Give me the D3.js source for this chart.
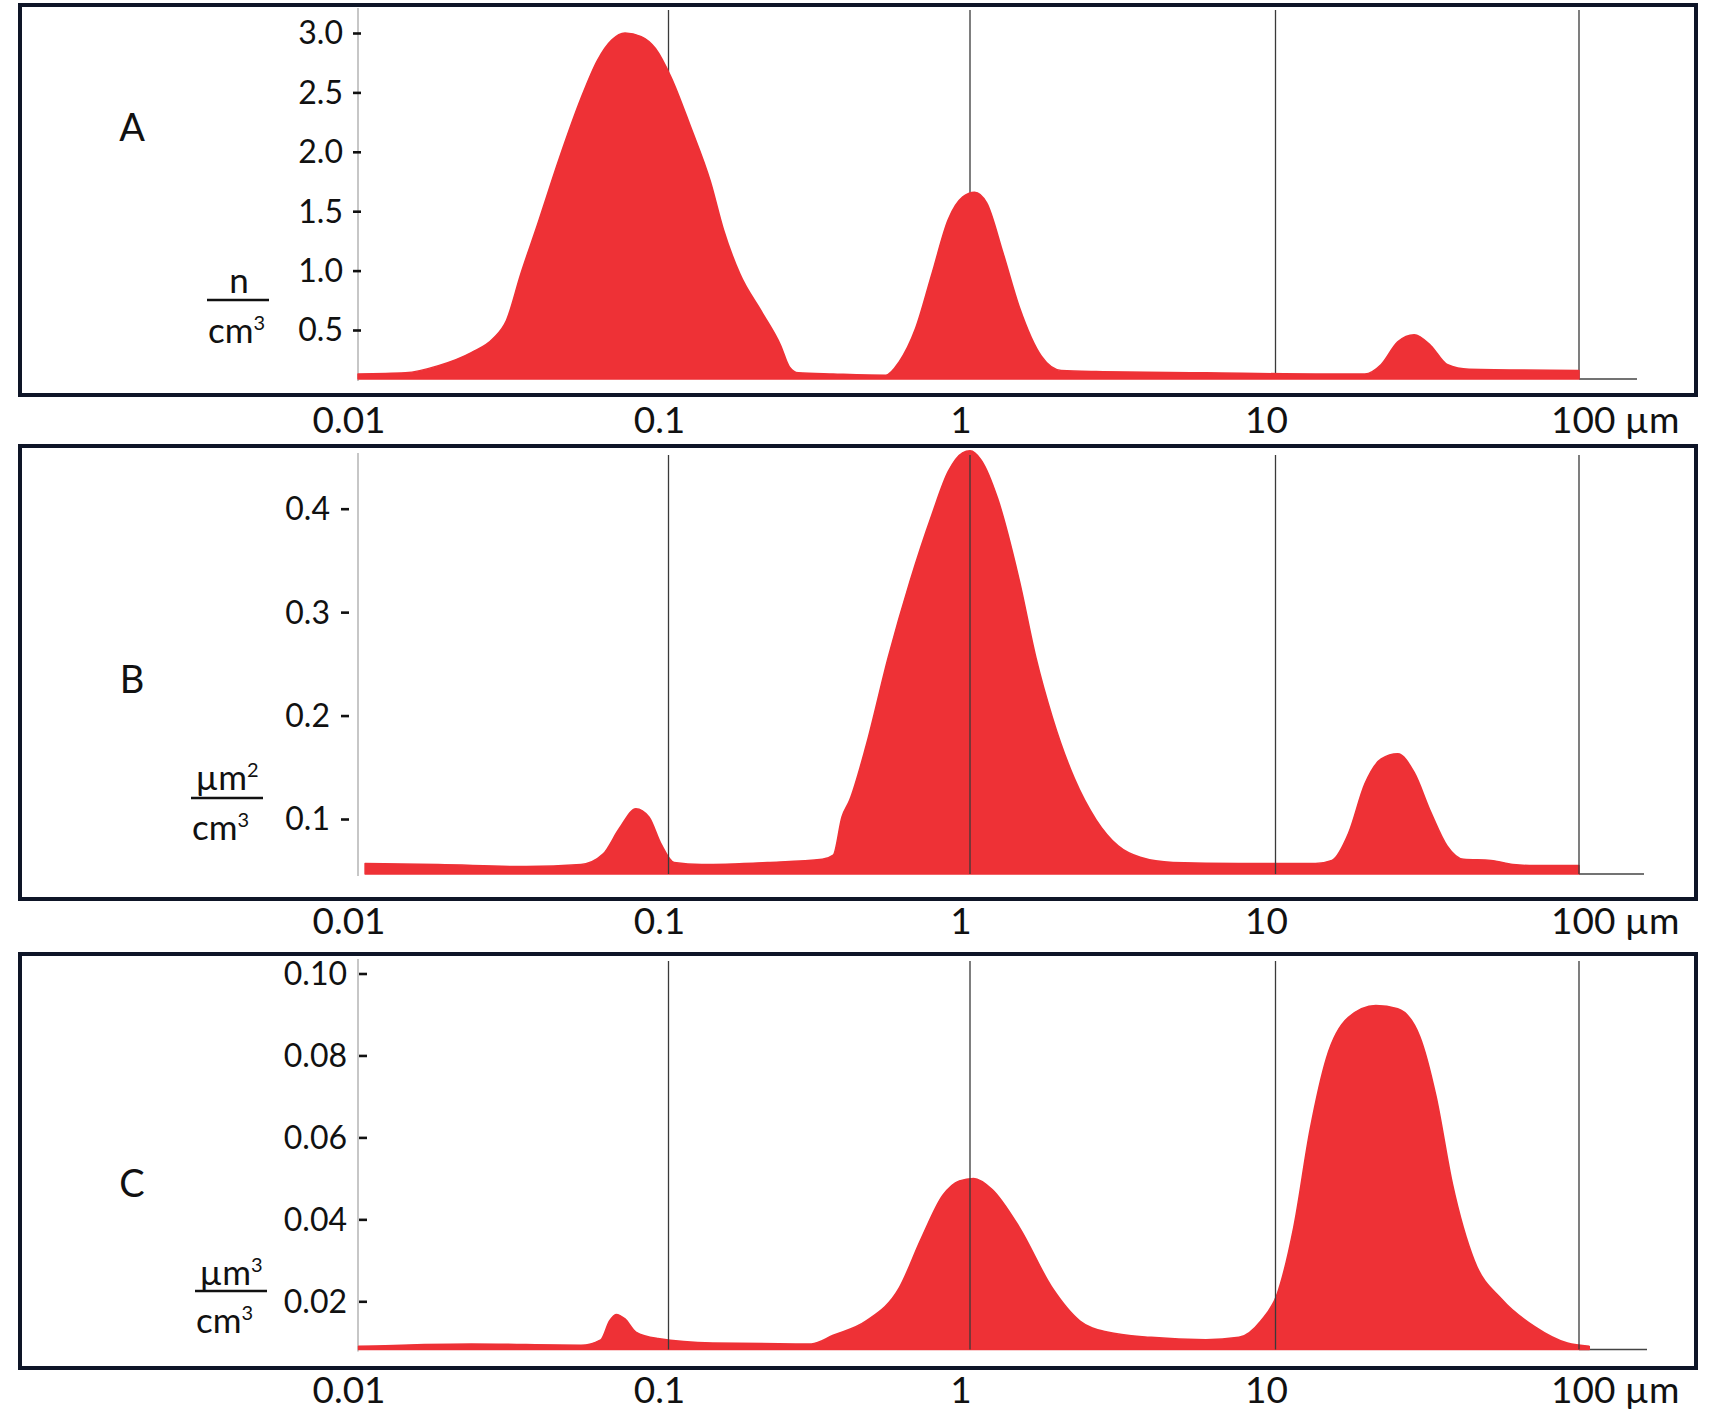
<!DOCTYPE html>
<html>
<head>
<meta charset="utf-8">
<script src="https://cdn.jsdelivr.net/npm/d3@7"></script>
<style>
  html, body { margin: 0; padding: 0; background: #fff; }
  svg { display: block; font-family: Lato, "Open Sans", sans-serif; }
</style>
</head>
<body>
<svg id="chart" width="1719" height="1413"></svg>
<script>
// ---------- DATA ----------
const xTicks = [0.01, 0.1, 1, 10, 100];
const xTickLabels = ["0.01", "0.1", "1", "10", "100 µm"];
const gridValues = [0.1, 1, 10, 100];

const panelLabels = ["A", "B", "C"];

// Panel A: number concentration (n/cm3)
const sizesA = [0.0100, 0.01422, 0.01815, 0.02317, 0.02729, 0.03006, 0.03342, 0.03777, 0.04443, 0.05226,
  0.05905, 0.06561, 0.07244, 0.08168, 0.09078, 0.1019, 0.1184, 0.1377, 0.1524, 0.1726,
  0.2040, 0.2355, 0.2518, 0.2693, 0.3519, 0.5256, 0.5813, 0.6591, 0.7471, 0.8470,
  0.9462, 1.035, 1.134, 1.282, 1.452, 1.713, 1.989, 2.590, 5.914, 13.55,
  19.70, 22.30, 25.27, 28.64, 32.45, 36.77, 43.42, 100];
const valuesA = [0.13, 0.14, 0.20, 0.31, 0.43, 0.58, 0.97, 1.38, 1.94, 2.45,
  2.77, 2.94, 3.00, 2.97, 2.87, 2.63, 2.21, 1.75, 1.34, 0.97,
  0.65, 0.37, 0.19, 0.14, 0.13, 0.12, 0.23, 0.51, 0.97, 1.43,
  1.62, 1.66, 1.57, 1.15, 0.69, 0.28, 0.16, 0.15, 0.14, 0.13,
  0.13, 0.21, 0.40, 0.46, 0.37, 0.21, 0.17, 0.16];

// Panel B: surface concentration (µm2/cm3)
const sizesB = [0.01054, 0.01815, 0.03483, 0.05226, 0.06152, 0.06950, 0.07852, 0.08650, 0.09462, 0.1044,
  0.1288, 0.2130, 0.3235, 0.3519, 0.3761, 0.3988, 0.4525, 0.5350, 0.6324, 0.7471,
  0.8470, 0.9446, 1.000, 1.088, 1.231, 1.452, 1.644, 1.862, 2.197, 2.590,
  3.055, 3.607, 4.621, 7.592, 13.55, 15.35, 17.39, 19.70, 22.30, 25.27,
  28.64, 32.45, 36.77, 41.67, 51.29, 60.58, 71.47, 100];
const valuesB = [0.057, 0.056, 0.054, 0.056, 0.066, 0.091, 0.110, 0.102, 0.076, 0.058,
  0.056, 0.058, 0.061, 0.065, 0.102, 0.118, 0.171, 0.256, 0.330, 0.394,
  0.436, 0.454, 0.456, 0.447, 0.410, 0.330, 0.256, 0.198, 0.139, 0.099,
  0.074, 0.063, 0.058, 0.057, 0.057, 0.060, 0.086, 0.134, 0.158, 0.163,
  0.145, 0.107, 0.074, 0.061, 0.060, 0.056, 0.055, 0.055];

// Panel C: volume concentration (µm3/cm3)
const sizesC = [0.01004, 0.02317, 0.05226, 0.06053, 0.06457, 0.06780, 0.07244, 0.07852, 0.09244, 0.1400,
  0.2977, 0.3519, 0.4525, 0.5818, 0.6879, 0.8128, 0.9223, 1.027, 1.182, 1.452,
  1.862, 2.291, 2.812, 3.917, 5.914, 7.592, 8.95, 10.13, 11.48, 13.01,
  14.73, 17.39, 21.41, 25.27, 29.85, 33.81, 38.30, 45.21, 55.66, 71.47,
  91.58, 108.1];
const valuesC = [0.0090, 0.0096, 0.0093, 0.0106, 0.0152, 0.0168, 0.0157, 0.0125, 0.0109, 0.0098,
  0.0096, 0.0117, 0.0152, 0.0232, 0.0352, 0.0459, 0.0494, 0.0500, 0.0473, 0.0380,
  0.0232, 0.0152, 0.0125, 0.0112, 0.0106, 0.0112, 0.0152, 0.0218, 0.0380, 0.0620,
  0.0794, 0.0893, 0.0922, 0.0914, 0.0847, 0.0700, 0.0486, 0.0299, 0.0205, 0.0138,
  0.0098, 0.0090];

const yTicksA = [0.5, 1.0, 1.5, 2.0, 2.5, 3.0];
const yTicksB = [0.1, 0.2, 0.3, 0.4];
const yTicksC = [0.02, 0.04, 0.06, 0.08, 0.10];

const unitTopBase = ["n", "µm", "µm"];
const unitTopSup = ["", "2", "3"];
const unitBottomBase = "cm";
const unitBottomSup = "3";

// ---------- LAYOUT ----------
const svg = d3.select("#chart");
const RED = "#ee3136";
const FRAME = "#0e1527";

// log axis, one piece per decade (the printed decades are not exactly equal)
const xLin = d3.scaleLinear().domain([-2, -1, 0, 1, 2]).range([358, 668.5, 970, 1275.5, 1579]);
const x = v => xLin(Math.log10(v));

const panels = [
  { label: panelLabels[0], sizes: sizesA, values: valuesA, ticks: yTicksA, fmt: d3.format(".1f"),
    frame: [20, 5, 1696, 395], yDomain: [0.5, 3.0], yRange: [330, 33], base: 379, top: 10, axisTop: 8,
    axisEnd: 1637, tickX: 361, tickPad: 10, gridOnTop: false, labelY: 127, xLabelY: 433,
    i: 0, unitCx: 239, numY: 293, lineY: 300, lineX: [207, 269], denY: 343, denX: 208 },
  { label: panelLabels[1], sizes: sizesB, values: valuesB, ticks: yTicksB, fmt: d3.format(".1f"),
    frame: [20, 446, 1696, 899], yDomain: [0.1, 0.4], yRange: [819, 508.7], base: 874, top: 455, axisTop: 453,
    axisEnd: 1644, tickX: 349, tickPad: 11, gridOnTop: true, labelY: 679, xLabelY: 934,
    i: 1, unitCx: 227, numY: 790, lineY: 798, lineX: [191, 263], denY: 840, denX: 192 },
  { label: panelLabels[2], sizes: sizesC, values: valuesC, ticks: yTicksC, fmt: d3.format(".2f"),
    frame: [20, 954, 1696, 1368], yDomain: [0.02, 0.10], yRange: [1301.3, 973.5], base: 1349.5, top: 961, axisTop: 959,
    axisEnd: 1647, tickX: 367, tickPad: 12, gridOnTop: true, labelY: 1183, xLabelY: 1403,
    i: 2, unitCx: 231, numY: 1285, lineY: 1291, lineX: [195, 267], denY: 1333, denX: 196 }
];

panels.forEach(p => {
  const g = svg.append("g");
  const y = d3.scaleLinear().domain(p.yDomain).range(p.yRange);
  const data = p.sizes.map((s, i) => ({ s, v: p.values[i] }));

  // frame
  g.append("rect")
    .attr("x", p.frame[0]).attr("y", p.frame[1])
    .attr("width", p.frame[2] - p.frame[0]).attr("height", p.frame[3] - p.frame[1])
    .attr("fill", "none").attr("stroke", FRAME).attr("stroke-width", 4);

  // y axis line (light grey)
  g.append("line")
    .attr("x1", x(0.01)).attr("x2", x(0.01))
    .attr("y1", p.axisTop).attr("y2", p.base + 2)
    .attr("stroke", "#b4b4b4").attr("stroke-width", 1.5);

  // horizontal axis segment past 100
  g.append("line")
    .attr("x1", x(100)).attr("x2", p.axisEnd)
    .attr("y1", p.base).attr("y2", p.base)
    .attr("stroke", "#444").attr("stroke-width", 1.6);

  const drawGrid = () => {
    g.append("g").selectAll("line").data(gridValues).join("line")
      .attr("x1", d => x(d)).attr("x2", d => x(d))
      .attr("y1", p.top).attr("y2", p.base)
      .attr("stroke", "#3a3a3a").attr("stroke-width", 1.3);
  };

  if (!p.gridOnTop) drawGrid();

  const area = d3.area()
    .x(d => x(d.s))
    .y0(p.base)
    .y1(d => y(d.v))
    .curve(d3.curveMonotoneX);

  g.append("path").datum(data)
    .attr("d", area)
    .attr("fill", RED)
    .attr("stroke", RED).attr("stroke-width", 1.5).attr("stroke-linejoin", "round");

  if (p.gridOnTop) drawGrid();

  // y ticks with labels
  const yAxis = d3.axisLeft(y).tickValues(p.ticks).tickFormat(p.fmt)
    .tickSize(8).tickPadding(p.tickPad);
  const ya = g.append("g").attr("transform", `translate(${p.tickX},0)`).call(yAxis);
  ya.select(".domain").remove();
  ya.selectAll(".tick line").attr("stroke", "#111").attr("stroke-width", 2.6);
  ya.selectAll(".tick text").attr("fill", "#111").style("font-size", "32px")
    .style("font-family", "Lato, 'Open Sans', sans-serif").attr("dy", "0.34em");

  // x tick labels
  g.append("g").selectAll("text").data(xTicks).join("text")
    .attr("x", (d, i) => i === xTicks.length - 1 ? x(d) - 28 : x(d) - 9)
    .attr("y", p.xLabelY)
    .attr("text-anchor", (d, i) => i === xTicks.length - 1 ? "start" : "middle")
    .attr("fill", "#111").style("font-size", "37px")
    .text((d, i) => xTickLabels[i]);

  // panel label
  g.append("text").attr("x", 132).attr("y", p.labelY).attr("dy", "0.36em")
    .attr("text-anchor", "middle").attr("fill", "#111").style("font-size", "38px")
    .text(p.label);

  // unit fraction
  const num = g.append("text").attr("x", p.unitCx).attr("y", p.numY)
    .attr("text-anchor", "middle").attr("fill", "#111").style("font-size", "35px");
  num.append("tspan").text(unitTopBase[p.i]);
  if (unitTopSup[p.i]) {
    num.append("tspan").attr("dy", -13).style("font-size", "20px").text(unitTopSup[p.i]);
  }
  g.append("line").attr("x1", p.lineX[0]).attr("x2", p.lineX[1])
    .attr("y1", p.lineY).attr("y2", p.lineY)
    .attr("stroke", "#111").attr("stroke-width", 2.5);
  const den = g.append("text").attr("x", p.denX).attr("y", p.denY)
    .attr("text-anchor", "start").attr("fill", "#111").style("font-size", "35px");
  den.append("tspan").text(unitBottomBase);
  den.append("tspan").attr("dy", -13).style("font-size", "20px").text(unitBottomSup);
});
</script>
</body>
</html>
